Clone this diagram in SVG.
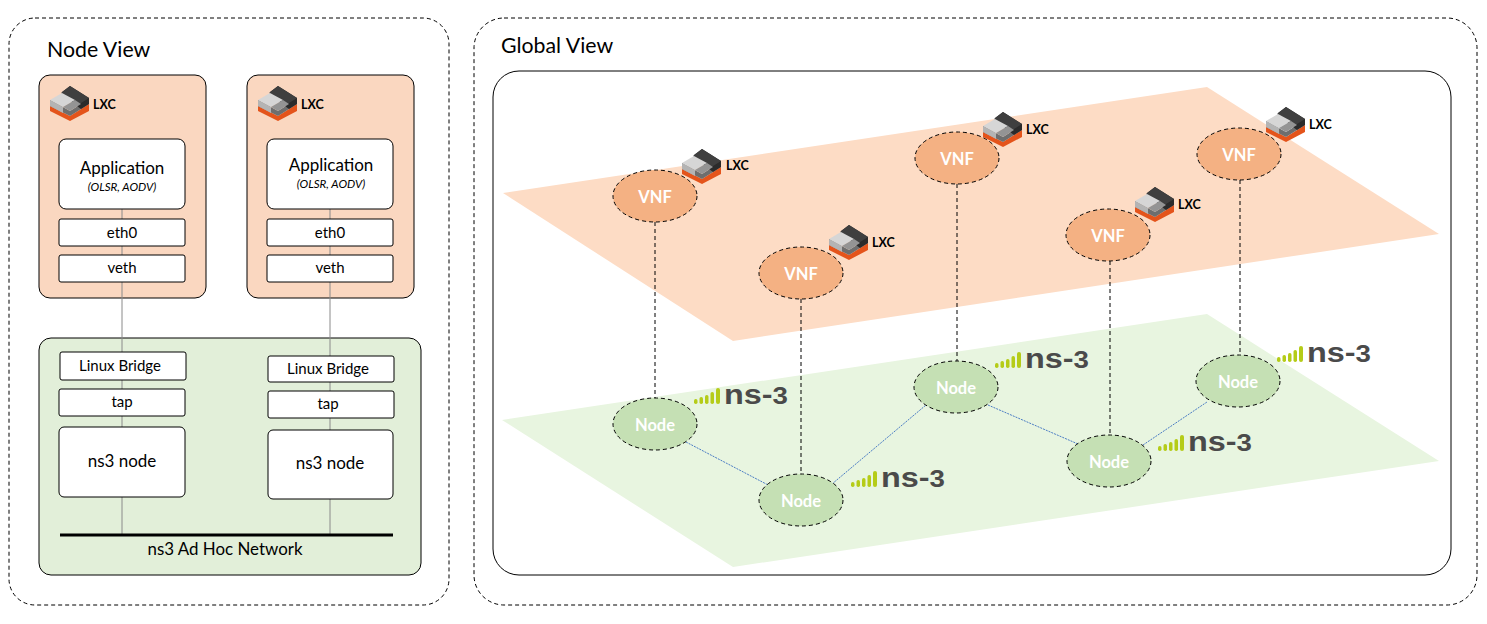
<svg xmlns="http://www.w3.org/2000/svg" width="1487" height="624" viewBox="0 0 1487 624">
<style>
text{font-family:"Lato","Liberation Sans",sans-serif;fill:#000;text-anchor:middle}
.panel{fill:#fff;stroke:#000;stroke-width:1;stroke-dasharray:4 3}
.lx{fill:#fad7c0;stroke:#000}
.box{fill:#fff;stroke:#000}
.g{stroke:#8a8a8a;stroke-width:1;fill:none}
.dash{stroke:#000;stroke-width:1;stroke-dasharray:4 3;fill:none}
.blue{stroke:#4a7cc4;stroke-width:1;stroke-dasharray:2 1;fill:none}
.vnf{fill:#f4b183;stroke:#000;stroke-width:1;stroke-dasharray:4 3}
.nd{fill:#c5e0b4;stroke:#000;stroke-width:1;stroke-dasharray:4 3}
.w{fill:#fff;font-size:16.500px;font-weight:700}
.l{font-size:12.500px;font-weight:700;text-anchor:start}
.t{font-size:21.300px;text-anchor:start}
.b{font-size:15px}
.a{font-size:17px}
.i{font-size:11.600px;font-style:italic}
.w,.l,.t,.a,.i{transform:translateY(1px)}
.logo{font-family:"Liberation Sans",sans-serif;font-weight:700;font-size:27px;fill:#4a4a4a;text-anchor:start}
</style>
<defs>
<g id="lxc">
<path d="M0 20L20 30L39 18V25L20 35L0 25Z" fill="#e4541b"/>
<path d="M0 14L20 25L39 13V18L20 30L0 20Z" fill="#6e6e6e"/>
<path d="M20 0L39 12V18L31 23L12 9V6Z" fill="#2b2b2b"/>
<path d="M20 0L39 12L28 19L11 7Z" fill="#3f3f3f"/>
<path d="M0 14L12 7L25 14L13 21Z" fill="#d6d6d6"/>
<path d="M13 21L25 14L31 18L20 25Z" fill="#949494"/>
<path d="M0 14L13 21V27L0 20Z" fill="#b4b4b4"/>
</g>
<g id="ns3">
<g fill="#b5cc18">
<rect x="0" y="11" width="3.500" height="5" rx="1.700"/>
<rect x="5.500" y="9" width="3.500" height="7" rx="1.700"/>
<rect x="11" y="7" width="3.500" height="9" rx="1.700"/>
<rect x="16.500" y="4" width="3.500" height="12" rx="1.700"/>
<rect x="22" y="0" width="4" height="16" rx="2"/>
</g>
<text class="logo" x="30" y="16" textLength="64" lengthAdjust="spacingAndGlyphs">ns-<tspan font-size="23">3</tspan></text>
</g>
</defs>
<g id="panels">
<rect class="panel" x="9" y="18" width="440" height="587" rx="26"/>
<rect class="panel" x="474" y="18" width="1003" height="587" rx="30"/>
<text class="t" x="47" y="56">Node View</text>
<text class="t" x="501" y="52">Global View</text>
</g>
<g id="node-view">
<rect class="lx" x="39" y="75" width="167" height="223" rx="11"/>
<rect class="lx" x="247" y="75" width="167" height="223" rx="11"/>
<rect x="39" y="338" width="382" height="237" rx="12" fill="#e2efd9" stroke="#000"/>
<g id="node-connectors">
<path class="g" d="M122 209V219M122 246V255M122 282V352M122 380V389M122 416V427M122 497V535"/>
<path class="g" d="M330 209V219M330 246V255M330 282V356M330 382V391M330 418V430M330 499V535"/>
</g>
<path d="M60 535H393" stroke="#000" stroke-width="3"/>
<g id="lxc-a"><use href="#lxc" x="50" y="86"/><text class="l" x="93" y="108">LXC</text></g>
<g id="lxc-b"><use href="#lxc" x="258" y="86"/><text class="l" x="301" y="108">LXC</text></g>
<g id="app-a"><rect class="box" x="59" y="139" width="126" height="70" rx="7"/><text class="a" x="122" y="173">Application</text><text class="i" x="122" y="190">(OLSR, AODV)</text></g>
<g id="app-b"><rect class="box" x="267" y="139" width="126" height="70" rx="7"/><text class="a" x="331" y="170">Application</text><text class="i" x="331" y="187">(OLSR, AODV)</text></g>
<g id="eth0-a"><rect class="box" x="59" y="219" width="126" height="27" rx="2"/><text class="b" x="122" y="238">eth0</text></g>
<g id="veth-a"><rect class="box" x="59" y="255" width="126" height="27" rx="2"/><text class="b" x="122" y="273">veth</text></g>
<g id="eth0-b"><rect class="box" x="267" y="219" width="126" height="27" rx="2"/><text class="b" x="330" y="238">eth0</text></g>
<g id="veth-b"><rect class="box" x="267" y="255" width="126" height="27" rx="2"/><text class="b" x="330" y="273">veth</text></g>
<g id="bridge-a"><rect class="box" x="60" y="352" width="126" height="28" rx="2"/><text class="b" x="120" y="371">Linux Bridge</text></g>
<g id="tap-a"><rect class="box" x="59" y="389" width="126" height="27" rx="2"/><text class="b" x="122" y="407">tap</text></g>
<g id="ns3-a"><rect class="box" x="59" y="427" width="126" height="70" rx="5"/><text class="a" x="122" y="466">ns3 node</text></g>
<g id="bridge-b"><rect class="box" x="268" y="356" width="126" height="26" rx="2"/><text class="b" x="328" y="374">Linux Bridge</text></g>
<g id="tap-b"><rect class="box" x="268" y="391" width="126" height="27" rx="2"/><text class="b" x="328" y="409">tap</text></g>
<g id="ns3-b"><rect class="box" x="268" y="430" width="125" height="69" rx="5"/><text class="a" x="330" y="468">ns3 node</text></g>
<text x="225" y="555" font-size="16.900">ns3 Ad Hoc Network</text>
</g>
<g id="global-view">
<rect x="493" y="71" width="958" height="504" rx="26" fill="#fff" stroke="#000"/>
<polygon points="503,193 1207,87 1439,234 733,341" fill="#fddcc5"/>
<polygon points="502,420 1207,314 1439,461 733,567" fill="#e8f5e0"/>
</g>
<g id="connectors">
<path class="dash" d="M655 222V398M801 299V474M957 184V361M1110 261V435M1240 180V355"/>
<path class="blue" d="M686 442L770 486M832 484L926 405M988 405L1078 444M1143 445L1207 402"/>
</g>
<g id="vnf-1"><ellipse class="vnf" cx="655" cy="196" rx="42" ry="26"/><text class="w" x="655" y="202">VNF</text></g>
<g id="vnf-2"><ellipse class="vnf" cx="801" cy="273" rx="42" ry="26"/><text class="w" x="801" y="279">VNF</text></g>
<g id="vnf-3"><ellipse class="vnf" cx="957" cy="158" rx="42" ry="26"/><text class="w" x="957" y="164">VNF</text></g>
<g id="vnf-4"><ellipse class="vnf" cx="1108" cy="235" rx="42" ry="26"/><text class="w" x="1108" y="241">VNF</text></g>
<g id="vnf-5"><ellipse class="vnf" cx="1239" cy="154" rx="42" ry="26"/><text class="w" x="1239" y="160">VNF</text></g>
<g id="node-1"><ellipse class="nd" cx="655" cy="424" rx="42" ry="26"/><text class="w" x="655" y="430">Node</text></g>
<g id="node-2"><ellipse class="nd" cx="801" cy="500" rx="42" ry="26"/><text class="w" x="801" y="506">Node</text></g>
<g id="node-3"><ellipse class="nd" cx="956" cy="387" rx="42" ry="26"/><text class="w" x="956" y="393">Node</text></g>
<g id="node-4"><ellipse class="nd" cx="1109" cy="461" rx="42" ry="26"/><text class="w" x="1109" y="467">Node</text></g>
<g id="node-5"><ellipse class="nd" cx="1238" cy="381" rx="42" ry="26"/><text class="w" x="1238" y="387">Node</text></g>
<g id="lxc-icons">
<use href="#lxc" x="682" y="149"/><text class="l" x="726" y="169">LXC</text>
<use href="#lxc" x="983" y="112"/><text class="l" x="1026" y="133">LXC</text>
<use href="#lxc" x="1266" y="107"/><text class="l" x="1309" y="128">LXC</text>
<use href="#lxc" x="1135" y="187"/><text class="l" x="1178" y="208">LXC</text>
<use href="#lxc" x="829" y="225"/><text class="l" x="872" y="246">LXC</text>
</g>
<g id="ns3-logos">
<use href="#ns3" x="694" y="388"/>
<use href="#ns3" x="851" y="471"/>
<use href="#ns3" x="995" y="352"/>
<use href="#ns3" x="1158" y="435"/>
<use href="#ns3" x="1277" y="346"/>
</g>
</svg>
